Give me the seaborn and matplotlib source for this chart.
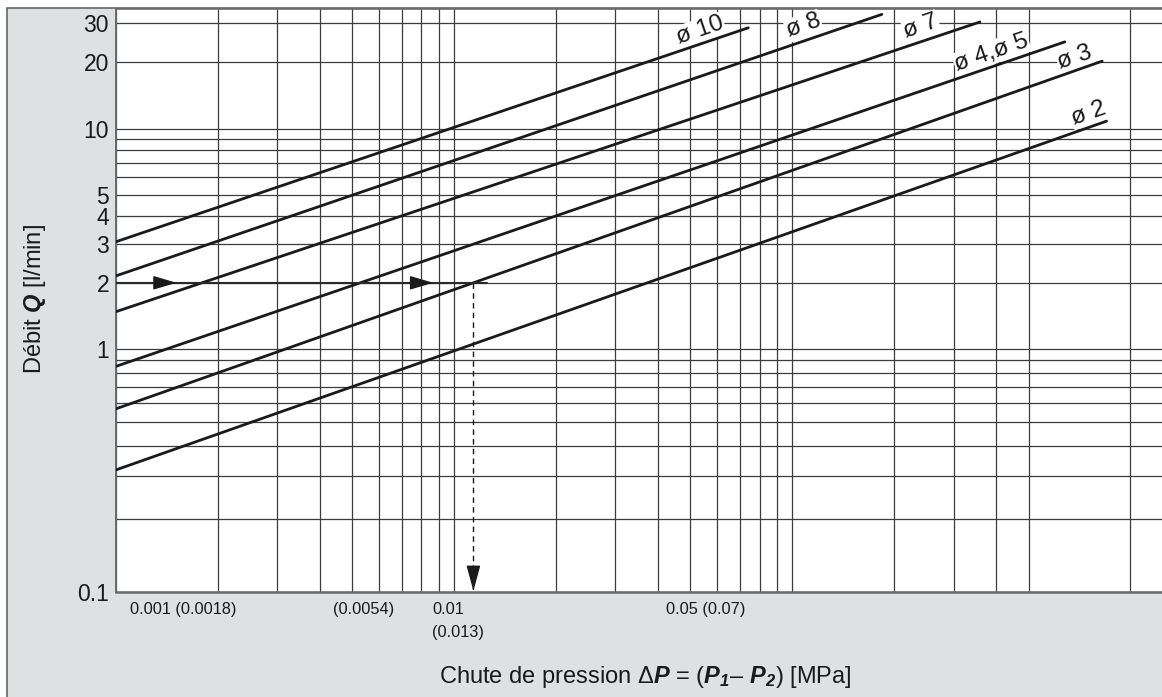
import numpy as np
import pandas as pd
import seaborn as sns
import matplotlib.pyplot as plt
from matplotlib.patches import Rectangle
from matplotlib.ticker import NullLocator

# ---------------------------------------
# data
# ---------------------------------------
sizes = ["ø 10", "ø 8", "ø 7", "ø 4,ø 5", "ø 3", "ø 2"]
dp_start = [0.001, 0.001, 0.001, 0.001, 0.001, 0.001]
q_start = [3.07, 2.15, 1.48, 0.85, 0.568, 0.318]
dp_end = [0.0741, 0.184, 0.359, 0.640, 0.825, 0.850]
q_end = [28.6, 32.9, 30.4, 24.7, 20.2, 10.8]

q_ticks = [0.1, 1, 2, 3, 4, 5, 10, 20, 30]
q_minor = [0.2, 0.3, 0.4, 0.5, 0.6, 0.7, 0.8, 0.9, 6, 7, 8, 9]
dp_grid = [0.001, 0.002, 0.003, 0.004, 0.005, 0.006, 0.007, 0.008, 0.009,
           0.01, 0.02, 0.03, 0.04, 0.05, 0.06, 0.07, 0.08, 0.09,
           0.1, 0.2, 0.3, 0.4, 0.5, 1.0]

dp_labels = ["0.001 (0.0018)", "(0.0054)", "0.01", "(0.013)", "0.05 (0.07)"]
dp_label_at = [0.0011, 0.0054, 0.0086, 0.0086, 0.0423]
dp_label_row = [0, 0, 0, 1, 0]

# worked example: Q = 2 l/min read on the ø 3 curve
ex_q = 2
ex_dp_end = 0.0125
ex_arrow_tips = [0.00151, 0.00867]
ex_size = "ø 3"

# label offsets from the end of each curve (points)
label_off = [(-34.6, -1.9), (-56.4, -8.3), (-42.5, -3.0),
             (-52.8, -7.7), (-19.7, 2.7), (-13.2, 5.5)]

# ---------------------------------------
# y scale: the lower decade is drawn a bit taller than the upper ones
# ---------------------------------------
K_LOW = 241.7 / 220.0


def fwd(v):
    t = np.log10(np.clip(np.asarray(v, dtype=float), 1e-12, None))
    return np.where(t < 0, t * K_LOW, t)


def inv(u):
    u = np.asarray(u, dtype=float)
    return np.where(u < 0, 10 ** (u / K_LOW), 10 ** u)


# ---------------------------------------
# figure
# ---------------------------------------
sns.set_style("white")
plt.rcParams['font.family'] = ['Liberation Sans', 'DejaVu Sans']
plt.rcParams['mathtext.fontset'] = 'custom'
plt.rcParams['mathtext.rm'] = 'Liberation Sans'
plt.rcParams['mathtext.it'] = 'Liberation Sans:italic'
plt.rcParams['mathtext.bf'] = 'Liberation Sans:bold'
plt.rcParams['mathtext.bfit'] = 'Liberation Sans:italic:bold'

W, H = 1162, 697
fig = plt.figure(figsize=(W / 100, H / 100), dpi=100, facecolor="white")

# grey panel behind everything
panel = Rectangle((7 / W, -0.05), 1.2, 1.05 - 8.3 / H, transform=fig.transFigure,
                  facecolor="#dfe0e2", edgecolor="#666666", lw=1.2, zorder=0)
fig.add_artist(panel)

ax = fig.add_axes([116 / W, 1 - 591.7 / H, (W - 116) / W, (591.7 - 9) / H])
ax.set_facecolor("white")

rows = []
for s, x0, y0, x1, y1 in zip(sizes, dp_start, q_start, dp_end, q_end):
    rows.append([s, x0, y0])
    rows.append([s, x1, y1])
df = pd.DataFrame(rows, columns=["size", "dp", "q"])

sns.lineplot(data=df, x="dp", y="q", units="size", estimator=None, sort=False,
             color="#1a1a1a", lw=2.0, legend=False, ax=ax, zorder=4)

ax.set_xscale("log")
ax.set_yscale("function", functions=(fwd, inv))
ax.set_xlim(0.001, 1.24)
ax.set_ylim(0.1, 34.8)

ax.set_xticks(dp_grid, labels=[""] * len(dp_grid))
ax.xaxis.set_minor_locator(NullLocator())
ax.set_yticks(q_ticks, labels=[f"{v:g}" for v in q_ticks])
ax.set_yticks(q_minor, minor=True)
ax.grid(True, which="both", color="#3c3c3c", lw=0.9, zorder=1)
ax.set_axisbelow(True)
ax.tick_params(which="both", length=0)
ax.tick_params(axis="y", labelsize=16.5, pad=5, labelcolor="#1a1a1a")

for side in ["left", "bottom", "top"]:
    ax.spines[side].set_visible(True)
    ax.spines[side].set_color("#6a6a6a")
ax.spines["left"].set_linewidth(1.4)
ax.spines["bottom"].set_linewidth(1.8)
ax.spines["top"].set_linewidth(1.2)
ax.spines["right"].set_visible(False)

# curve names
for s, x1, y1, off in zip(sizes, dp_end, q_end, label_off):
    ax.annotate(s, xy=(x1, y1), xytext=off, textcoords="offset points",
                rotation=19, ha="center", va="center", fontsize=17.5, color="#1a1a1a",
                bbox=dict(facecolor="white", edgecolor="none", pad=0.5), zorder=3)

# x tick texts
xt = ax.get_xaxis_transform()
for txt, x, r in zip(dp_labels, dp_label_at, dp_label_row):
    ha = "center" if txt == "(0.0054)" else "left"
    ax.text(x, -0.0309 - 0.0383 * r, txt, transform=xt, ha=ha, va="center",
            fontsize=11.8, color="#1a1a1a")

# worked example
ax.plot([dp_start[0], ex_dp_end], [ex_q, ex_q], color="#2a2a2a", lw=1.5, zorder=5)
for tip in ex_arrow_tips:
    ax.annotate("", xy=(tip, ex_q), xytext=(tip * 0.97, ex_q),
                arrowprops=dict(arrowstyle="-|>,head_length=1.45,head_width=0.43",
                                color="#1a1a1a", lw=1, shrinkA=0, shrinkB=0), zorder=6)

i3 = sizes.index(ex_size)
t = (fwd(ex_q) - fwd(q_start[i3])) / (fwd(q_end[i3]) - fwd(q_start[i3]))
lx0, lx1 = np.log10(dp_start[i3]), np.log10(dp_end[i3])
x_drop = float(10 ** (lx0 + t * (lx1 - lx0)))
ax.plot([x_drop, x_drop], [ex_q, 0.115], color="#1a1a1a", lw=1.0,
        ls=(0, (4, 3)), zorder=5)
ax.annotate("", xy=(x_drop, 0.1005), xytext=(x_drop, 0.103),
            arrowprops=dict(arrowstyle="-|>,head_length=1.6,head_width=0.43",
                            color="#1a1a1a", lw=1, shrinkA=0, shrinkB=0), zorder=6)

# axis titles
ax.set_xlabel("Chute de pression Δ$\\mathbfit{P}$ = ($\\mathbfit{P}_{\\mathbfit{1}}$– "
              "$\\mathbfit{P}_{\\mathbfit{2}}$) [MPa]", fontsize=17, color="#1a1a1a")
ax.xaxis.label.set_va("center")
ax.xaxis.set_label_coords((645 - 116) / (W - 116), (591.7 - 677) / (591.7 - 9))

ax.set_ylabel("Débit $\\mathbfit{Q}$ [l/min]", fontsize=17, color="#1a1a1a")
ax.yaxis.label.set_va("center")
ax.yaxis.set_label_coords((35 - 116) / (W - 116), (591.7 - 299.5) / (591.7 - 9))

plt.savefig("out.png", dpi=100)
